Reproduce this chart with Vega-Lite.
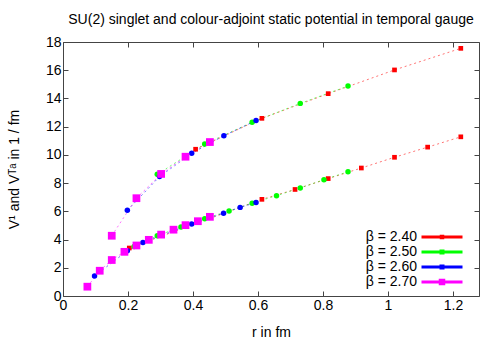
{
  "$schema": "https://vega.github.io/schema/vega-lite/v6.json",
  "width": 416,
  "height": 254,
  "autosize": {"type": "none"},
  "padding": {"left": 63, "top": 42, "right": 24, "bottom": 56},
  "background": "white",
  "title": {"text": "SU(2) singlet and colour-adjoint static potential in temporal gauge", "fontSize": 14, "fontWeight": "normal", "font": "Liberation Sans", "color": "#000", "anchor": "middle", "offset": 8},
  "config": {
    "font": "Liberation Sans",
    "view": {"stroke": "#444", "strokeWidth": 1},
    "axis": {"domain": false, "grid": false, "tickSize": -5, "tickColor": "#444", "tickWidth": 1, "labelFontSize": 14, "labelColor": "#000", "labelPadding": 7, "labelFlush": false, "labelOverlap": false, "titleFontSize": 14, "titleFontWeight": "normal", "titleColor": "#000", "labelFont": "Liberation Sans", "titleFont": "Liberation Sans"},
    "legend": {"labelFontSize": 14, "labelFont": "Liberation Sans", "labelColor": "#000", "labelAlign": "right", "labelOffset": -32, "symbolSize": 100, "symbolStrokeWidth": 0, "rowPadding": 1, "padding": 0}
  },
  "data": {"values": [
    {"beta": "2.40", "curve": "singlet", "r": 0.204, "V": 3.40},
    {"beta": "2.40", "curve": "singlet", "r": 0.612, "V": 6.85},
    {"beta": "2.40", "curve": "singlet", "r": 0.714, "V": 7.55},
    {"beta": "2.40", "curve": "singlet", "r": 0.816, "V": 8.32},
    {"beta": "2.40", "curve": "singlet", "r": 0.918, "V": 9.07},
    {"beta": "2.40", "curve": "singlet", "r": 1.020, "V": 9.83},
    {"beta": "2.40", "curve": "singlet", "r": 1.122, "V": 10.55},
    {"beta": "2.40", "curve": "singlet", "r": 1.224, "V": 11.28},
    {"beta": "2.40", "curve": "adjoint", "r": 0.408, "V": 10.40},
    {"beta": "2.40", "curve": "adjoint", "r": 0.612, "V": 12.59},
    {"beta": "2.40", "curve": "adjoint", "r": 0.816, "V": 14.34},
    {"beta": "2.40", "curve": "adjoint", "r": 1.020, "V": 16.02},
    {"beta": "2.40", "curve": "adjoint", "r": 1.224, "V": 17.55},
    {"beta": "2.50", "curve": "singlet", "r": 0.219, "V": 3.50},
    {"beta": "2.50", "curve": "singlet", "r": 0.290, "V": 4.27},
    {"beta": "2.50", "curve": "singlet", "r": 0.363, "V": 4.89},
    {"beta": "2.50", "curve": "singlet", "r": 0.436, "V": 5.48},
    {"beta": "2.50", "curve": "singlet", "r": 0.511, "V": 6.03},
    {"beta": "2.50", "curve": "singlet", "r": 0.582, "V": 6.58},
    {"beta": "2.50", "curve": "singlet", "r": 0.657, "V": 7.11},
    {"beta": "2.50", "curve": "singlet", "r": 0.730, "V": 7.66},
    {"beta": "2.50", "curve": "singlet", "r": 0.803, "V": 8.24},
    {"beta": "2.50", "curve": "singlet", "r": 0.877, "V": 8.81},
    {"beta": "2.50", "curve": "adjoint", "r": 0.290, "V": 8.62},
    {"beta": "2.50", "curve": "adjoint", "r": 0.436, "V": 10.77},
    {"beta": "2.50", "curve": "adjoint", "r": 0.582, "V": 12.31},
    {"beta": "2.50", "curve": "adjoint", "r": 0.730, "V": 13.65},
    {"beta": "2.50", "curve": "adjoint", "r": 0.877, "V": 14.88},
    {"beta": "2.60", "curve": "singlet", "r": 0.097, "V": 1.42},
    {"beta": "2.60", "curve": "singlet", "r": 0.198, "V": 3.20},
    {"beta": "2.60", "curve": "singlet", "r": 0.246, "V": 3.79},
    {"beta": "2.60", "curve": "singlet", "r": 0.396, "V": 5.10},
    {"beta": "2.60", "curve": "singlet", "r": 0.494, "V": 5.87},
    {"beta": "2.60", "curve": "singlet", "r": 0.545, "V": 6.28},
    {"beta": "2.60", "curve": "singlet", "r": 0.594, "V": 6.62},
    {"beta": "2.60", "curve": "adjoint", "r": 0.198, "V": 6.07},
    {"beta": "2.60", "curve": "adjoint", "r": 0.297, "V": 8.46},
    {"beta": "2.60", "curve": "adjoint", "r": 0.396, "V": 10.11},
    {"beta": "2.60", "curve": "adjoint", "r": 0.495, "V": 11.36},
    {"beta": "2.60", "curve": "adjoint", "r": 0.594, "V": 12.43},
    {"beta": "2.70", "curve": "singlet", "r": 0.075, "V": 0.66},
    {"beta": "2.70", "curve": "singlet", "r": 0.113, "V": 1.79},
    {"beta": "2.70", "curve": "singlet", "r": 0.150, "V": 2.55},
    {"beta": "2.70", "curve": "singlet", "r": 0.189, "V": 3.13},
    {"beta": "2.70", "curve": "singlet", "r": 0.226, "V": 3.58},
    {"beta": "2.70", "curve": "singlet", "r": 0.264, "V": 3.98},
    {"beta": "2.70", "curve": "singlet", "r": 0.302, "V": 4.35},
    {"beta": "2.70", "curve": "singlet", "r": 0.340, "V": 4.70},
    {"beta": "2.70", "curve": "singlet", "r": 0.377, "V": 5.02},
    {"beta": "2.70", "curve": "singlet", "r": 0.415, "V": 5.30},
    {"beta": "2.70", "curve": "singlet", "r": 0.452, "V": 5.61},
    {"beta": "2.70", "curve": "adjoint", "r": 0.150, "V": 4.27},
    {"beta": "2.70", "curve": "adjoint", "r": 0.226, "V": 6.93},
    {"beta": "2.70", "curve": "adjoint", "r": 0.302, "V": 8.65},
    {"beta": "2.70", "curve": "adjoint", "r": 0.377, "V": 9.87},
    {"beta": "2.70", "curve": "adjoint", "r": 0.452, "V": 10.91}
  ]},
  "resolve": {"axis": {"x": "independent", "y": "independent"}},
  "layer": [
    {
      "transform": [{"filter": "datum.r < 0"}],
      "mark": {"type": "point", "filled": true, "size": 100, "opacity": 1},
      "encoding": {
        "x": {"field": "r", "type": "quantitative", "scale": {"domain": [0, 1.28], "nice": false, "zero": false}, "axis": null},
        "y": {"field": "V", "type": "quantitative", "scale": {"domain": [0, 18], "nice": false, "zero": false}, "axis": null},
        "color": {"field": "beta", "type": "nominal",
                  "scale": {"domain": ["2.40", "2.50", "2.60", "2.70"], "range": ["#ff0000", "#00ff00", "#0000ff", "#ff00ff"]},
                  "legend": {"orient": "none", "legendX": 372, "legendY": 188, "title": null, "labelExpr": "'β = ' + datum.label"}},
        "shape": {"field": "beta", "type": "nominal",
                  "scale": {"domain": ["2.40", "2.50", "2.60", "2.70"],
                            "range": ["M-4.1,-0.3H4.1V0.3H-4.1Z M-0.45,-0.45H0.45V0.45H-0.45Z",
                                      "M-4.1,-0.3H4.1V0.3H-4.1Z M-0.5,-0.5H0.5V0.5H-0.5Z",
                                      "M-4.1,-0.3H4.1V0.3H-4.1Z M-0.5,-0.5H0.5V0.5H-0.5Z",
                                      "M-4.1,-0.3H4.1V0.3H-4.1Z M-0.65,-0.65H0.65V0.65H-0.65Z"]},
                  "legend": {"orient": "none", "legendX": 372, "legendY": 188, "title": null, "labelExpr": "'β = ' + datum.label"}}
      }
    },
    {
      "mark": {"type": "line", "strokeWidth": 1, "strokeDash": [2, 3], "opacity": 0.55},
      "encoding": {
        "x": {"field": "r", "type": "quantitative", "scale": {"domain": [0, 1.28], "nice": false, "zero": false},
              "axis": {"orient": "bottom", "values": [0, 0.2, 0.4, 0.6, 0.8, 1, 1.2], "format": "~g", "title": "r in fm", "titlePadding": 13}},
        "y": {"field": "V", "type": "quantitative", "scale": {"domain": [0, 18], "nice": false, "zero": false},
              "axis": {"orient": "left", "values": [0, 2, 4, 6, 8, 10, 12, 14, 16, 18], "format": "~g", "title": "V¹ and Vᵀᵃ in 1 / fm", "titlePadding": 24}},
        "color": {"field": "beta", "type": "nominal", "legend": null},
        "detail": {"field": "curve"}
      }
    },
    {
      "transform": [{"filter": "datum.beta == '2.40'"}],
      "mark": {"type": "square", "size": 22, "opacity": 1},
      "encoding": {
        "x": {"field": "r", "type": "quantitative",
              "axis": {"orient": "top", "values": [0, 0.2, 0.4, 0.6, 0.8, 1, 1.2], "labels": false, "title": null}},
        "y": {"field": "V", "type": "quantitative",
              "axis": {"orient": "right", "values": [0, 2, 4, 6, 8, 10, 12, 14, 16, 18], "labels": false, "title": null}},
        "color": {"field": "beta", "type": "nominal", "legend": null}
      }
    },
    {
      "transform": [{"filter": "datum.beta == '2.50' || datum.beta == '2.60'"}],
      "mark": {"type": "circle", "size": 30, "opacity": 1},
      "encoding": {
        "x": {"field": "r", "type": "quantitative", "axis": null},
        "y": {"field": "V", "type": "quantitative", "axis": null},
        "color": {"field": "beta", "type": "nominal", "legend": null}
      }
    },
    {
      "transform": [{"filter": "datum.beta == '2.70'"}],
      "mark": {"type": "square", "size": 60, "opacity": 1},
      "encoding": {
        "x": {"field": "r", "type": "quantitative", "axis": null},
        "y": {"field": "V", "type": "quantitative", "axis": null},
        "color": {"field": "beta", "type": "nominal", "legend": null}
      }
    }
  ]
}
